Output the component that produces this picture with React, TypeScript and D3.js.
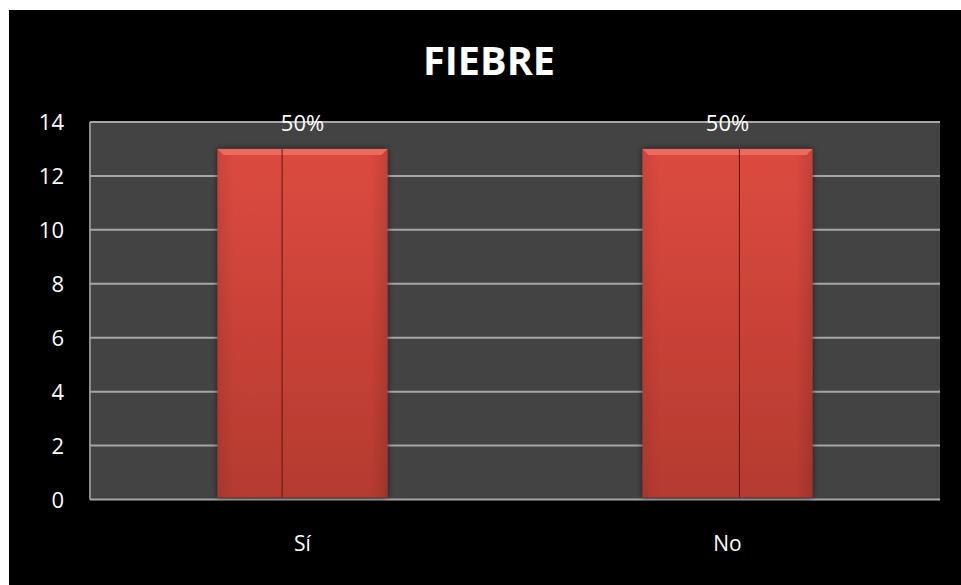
import React from "react";
import * as d3 from "d3";

const title = "FIEBRE";
const categories = ["Sí", "No"];
const values = [13, 13];
const labels = ["50%", "50%"];
const yTicks = [0, 2, 4, 6, 8, 10, 12, 14];
const dividerFrac = [0.38, 0.57];

const W = 961;
const H = 585;
const FONT = "'Open Sans', 'Noto Sans', sans-serif";

export default function App() {
  const plot = { left: 90, right: 940, top: 122, bottom: 499.5 };
  const x = d3.scaleBand<string>().domain(categories).range([plot.left, plot.right]).paddingInner(0.6).paddingOuter(0.3);
  const y = d3.scaleLinear().domain([0, 14]).range([plot.bottom, plot.top]);
  const bw = x.bandwidth();

  return (
    <svg width={W} height={H} style={{ position: "absolute", left: 0, top: 0, display: "block" }}>
      <defs>
        <linearGradient id="barGrad" x1="0" y1="0" x2="0" y2="1">
          <stop offset="0" stopColor="#dd4a3f" />
          <stop offset="1" stopColor="#b53a30" />
        </linearGradient>
        <linearGradient id="barSide" x1="0" y1="0" x2="1" y2="0">
          <stop offset="0" stopColor="#000" stopOpacity="0.08" />
          <stop offset="0.1" stopColor="#000" stopOpacity="0" />
          <stop offset="0.9" stopColor="#000" stopOpacity="0" />
          <stop offset="1" stopColor="#000" stopOpacity="0.12" />
        </linearGradient>
        <filter id="shadow" x="-10%" y="-10%" width="120%" height="120%">
          <feGaussianBlur in="SourceAlpha" stdDeviation="3" />
          <feOffset dx="0" dy="0" result="b" />
          <feComponentTransfer><feFuncA type="linear" slope="0.6" /></feComponentTransfer>
          <feMerge><feMergeNode /><feMergeNode in="SourceGraphic" /></feMerge>
        </filter>
      </defs>
      <rect x={0} y={0} width={W} height={H} fill="#ffffff" />
      <rect x={9} y={10} width={W - 9} height={H - 10} fill="#000000" />
      <text x={489} y={75} textAnchor="middle" fill="#ffffff" fontFamily={FONT} fontWeight="bold" fontSize={39}
        textLength={132} lengthAdjust="spacingAndGlyphs">{title}</text>
      <rect x={plot.left} y={plot.top} width={plot.right - plot.left} height={plot.bottom - plot.top} fill="#434343" />
      <line x1={plot.left} x2={plot.left} y1={plot.top} y2={plot.bottom} stroke="#8c8c8c" strokeWidth={2} />
      {yTicks.map((t) => (
        <g key={t}>
          <line x1={plot.left} x2={plot.right} y1={y(t)} y2={y(t)} stroke="#a6a6a6" strokeWidth={2} />
          <text x={64} y={y(t) + 8} textAnchor="end" fill="#ffffff" fontFamily={FONT} fontSize={22}>{t}</text>
        </g>
      ))}
      {categories.map((c, i) => {
        const bx = x(c)!;
        const by = y(values[i]);
        const bh = y(0) - by - 2;
        const bev = 6;
        return (
          <g key={c}>
            <rect x={bx} y={by} width={bw} height={bh} fill="url(#barGrad)" filter="url(#shadow)" />
            <rect x={bx} y={by} width={bw} height={bh} fill="url(#barSide)" />
            <polygon points={`${bx},${by} ${bx + bw},${by} ${bx + bw - bev},${by + bev} ${bx + bev},${by + bev}`} fill="#ec6a5e" />
            <line x1={bx + bw * dividerFrac[i]} x2={bx + bw * dividerFrac[i]} y1={by} y2={by + bh} stroke="#5a1a14" strokeWidth={1} />
            <text x={bx + bw / 2} y={131} textAnchor="middle" fill="#ffffff" fontFamily={FONT} fontSize={22}>{labels[i]}</text>
            <text x={bx + bw / 2} y={551} textAnchor="middle" fill="#ffffff" fontFamily={FONT} fontSize={21}>{c}</text>
          </g>
        );
      })}
    </svg>
  );
}
